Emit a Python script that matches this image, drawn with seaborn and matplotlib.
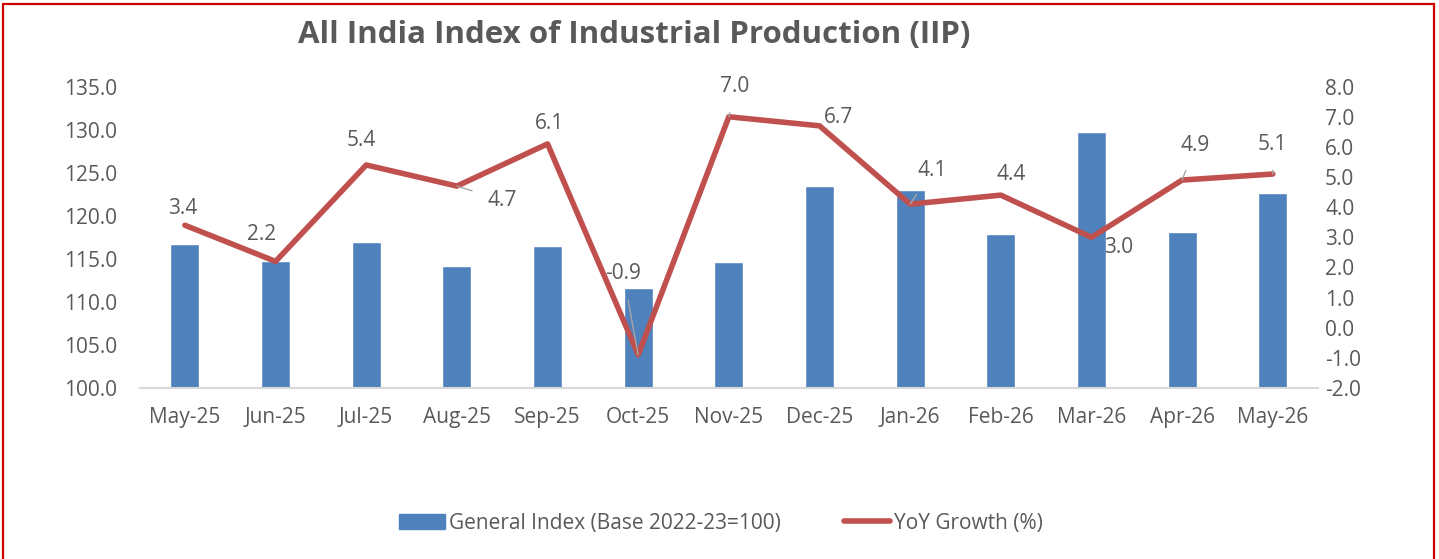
import matplotlib
matplotlib.use("Agg")
import matplotlib.pyplot as plt
import seaborn as sns
import pandas as pd
from matplotlib.patches import Rectangle
from matplotlib.lines import Line2D
from matplotlib.patches import Patch

months = ["May-25", "Jun-25", "Jul-25", "Aug-25", "Sep-25", "Oct-25", "Nov-25",
          "Dec-25", "Jan-26", "Feb-26", "Mar-26", "Apr-26", "May-26"]
general_index = [116.7, 114.7, 117.0, 114.2, 116.5, 111.6, 114.6,
                 123.5, 123.0, 117.9, 129.7, 118.1, 122.7]
yoy_growth = [3.4, 2.2, 5.4, 4.7, 6.1, -0.9, 7.0, 6.7, 4.1, 4.4, 3.0, 4.9, 5.1]
left_ticks = [100, 105, 110, 115, 120, 125, 130, 135]
right_ticks = [-2, -1, 0, 1, 2, 3, 4, 5, 6, 7, 8]

# label offsets in pixels (dx, dy; dy positive = up) and whether a leader line is drawn
label_offsets = [(-2, 17), (-14, 27), (-5, 24), (45, -14), (2, 20), (-15, 81), (6, 30),
                 (19, 8), (22, 34), (10, 21), (27, -10), (13, 35), (0, 30)]
leaders = [False, False, False, True, False, True, True, False, True, False, False, True, True]

sns.set_theme(style="white")
plt.rcParams['font.family'] = ['Open Sans', 'DejaVu Sans']

BLUE = "#4F81BD"
RED = "#C0504D"
TXT = "#595959"
FS = 15

df = pd.DataFrame({"month": months, "index": general_index, "yoy": yoy_growth})

fig = plt.figure(figsize=(14.39, 5.59), dpi=100)
ax = fig.add_axes([0.097, 0.306, 0.819, 0.539])

sns.barplot(data=df, x="month", y="index", color=BLUE, width=0.32, ax=ax,
            saturation=1, bottom=0)
ax.set_ylim(100, 135)
ax.set_yticks(left_ticks)
ax.set_yticklabels([f"{t:.1f}" for t in left_ticks])
ax.set_xlim(-0.5, len(months) - 0.5)
ax.set_xlabel("")
ax.set_ylabel("")
for s in ["top", "right", "left"]:
    ax.spines[s].set_visible(False)
ax.spines["bottom"].set_color("#D9D9D9")
ax.spines["bottom"].set_linewidth(1.5)
ax.tick_params(axis="both", length=0, labelsize=FS, labelcolor=TXT)
ax.tick_params(axis="x", pad=14)
ax.tick_params(axis="y", pad=16)

ax2 = ax.twinx()
sns.lineplot(x=list(range(len(months))), y=yoy_growth, color=RED, linewidth=4,
             ax=ax2, solid_capstyle="round", solid_joinstyle="round")
ax2.set_ylim(-2, 8)
ax2.set_yticks(right_ticks)
ax2.set_yticklabels([f"{t:.1f}" for t in right_ticks])
for s in ["top", "right", "left", "bottom"]:
    ax2.spines[s].set_visible(False)
ax2.tick_params(axis="y", length=0, labelsize=FS, labelcolor=TXT, pad=5)

for i, (v, (dx, dy), ld) in enumerate(zip(yoy_growth, label_offsets, leaders)):
    ax2.annotate(f"{v:.1f}", xy=(i, v), xytext=(dx, dy), textcoords="offset pixels",
                 ha="center", va="center", fontsize=FS, color=TXT,
                 arrowprops=dict(arrowstyle="-", color="#A6A6A6", lw=1,
                                 shrinkA=9, shrinkB=0) if ld else None)

fig.text(0.441, 0.937, "All India Index of Industrial Production (IIP)",
         ha="center", va="center", fontsize=22.5, fontweight="bold", color=TXT)

handles = [Patch(facecolor=BLUE, edgecolor=BLUE),
           Line2D([0], [0], color=RED, lw=4, solid_capstyle="round")]
fig.legend(handles, ["General Index (Base 2022-23=100)", "YoY Growth (%)"],
           loc="center", bbox_to_anchor=(0.501, 0.064), ncol=2, frameon=False,
           fontsize=FS, labelcolor=TXT, handlelength=2.2, handleheight=0.8,
           columnspacing=3.0, handletextpad=0.2)

fig.patches.append(Rectangle((3 / 1439, -0.05), (1434 - 3) / 1439, 1.05 - 4 / 559,
                             transform=fig.transFigure, fill=False,
                             edgecolor="#D00000", linewidth=1.6, zorder=10))

fig.savefig("out.png", dpi=100, facecolor="white")
